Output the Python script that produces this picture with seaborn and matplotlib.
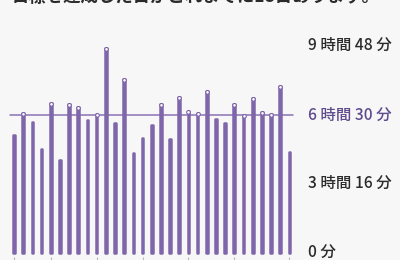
import matplotlib
matplotlib.use("Agg")
import matplotlib.pyplot as plt
import matplotlib.transforms as mtransforms
import seaborn as sns
import pandas as pd

# ---- data (minutes of sleep per day) ----
days = list(range(1, 32))
sleep_minutes = [333, 395, 370, 295, 425, 262, 420, 413, 376, 394,
                 579, 367, 491, 283, 326, 362, 420, 321, 442, 401,
                 395, 458, 378, 368, 421, 391, 437, 398, 393, 472, 286]
goal_minutes = 390
tick_values = [0, 196, 390, 588]
tick_labels = ["0 分", "3 時間 16 分", "6 時間 30 分", "9 時間 48 分"]
title_text = "目標を達成した日がこれまでに18日あります。"
marked_days = [0, 4, 9, 14, 19, 24, 30]

sns.set_theme(style="white")
plt.rcParams['font.family'] = ['Noto Sans CJK JP', 'DejaVu Sans']

BG = "#f6f7f6"
PURPLE = "#7f66aa"
LINE_PURPLE = "#8a72b6"
LABEL_PURPLE = "#5f4a8e"
TEXT = "#2a2a2a"

df = pd.DataFrame({"day": days, "minutes": sleep_minutes})
df["idx"] = range(len(df))

fig = plt.figure(figsize=(4.0, 2.6), dpi=100, facecolor=BG)
ax = fig.add_axes([0, 0, 0.75, 1.0], facecolor=BG)

# goal line behind bars
ax.axhline(goal_minutes, xmin=10 / 300, xmax=293 / 300, color=LINE_PURPLE,
           lw=1.1, zorder=1)

sns.barplot(data=df, x="idx", y="minutes", color=PURPLE, width=0.18,
            saturation=1, ax=ax, zorder=2)
for p in ax.patches:
    p.set_edgecolor(PURPLE)
    p.set_linewidth(1.8)
    p.set_joinstyle("round")

# goal-achieved markers at bar tops
hit = df[df["minutes"] >= goal_minutes]
sns.scatterplot(data=hit, x="idx", y="minutes", ax=ax, s=7, color="white",
                edgecolor=PURPLE, linewidth=0.8, zorder=3, legend=False)
off = mtransforms.ScaledTranslation(0, -0.6 / 72, fig.dpi_scale_trans)
for coll in ax.collections:
    coll.set_transform(coll.get_transform() + off)

ax.set_xlim(-14 / 9.18, (300 - 14) / 9.18)
ax.set_ylim(-7 / 0.3537, 253 / 0.3537)

ax.set_xlabel("")
ax.set_ylabel("")
ax.set_yticks([])
ax.set_xticks(marked_days)
ax.set_xticklabels([])
ax.tick_params(axis="x", direction="in", length=2.5, width=0.8,
               color="#b8b8b8", bottom=True)
for s in ax.spines.values():
    s.set_visible(False)

trans = mtransforms.blended_transform_factory(ax.transAxes, ax.transData)
for v, lab in zip(tick_values, tick_labels):
    col = LABEL_PURPLE if v == goal_minutes else TEXT
    ax.text(308 / 300, v, lab, transform=trans, ha="left", va="center",
            fontsize=11.2, color=col, clip_on=False, fontweight="medium")

fig.text(12 / 400, 1 + 3 / 260, title_text, ha="left", va="center",
         fontsize=12.5, color=TEXT, fontweight="bold")

fig.savefig("out.png", dpi=100, facecolor=BG)
